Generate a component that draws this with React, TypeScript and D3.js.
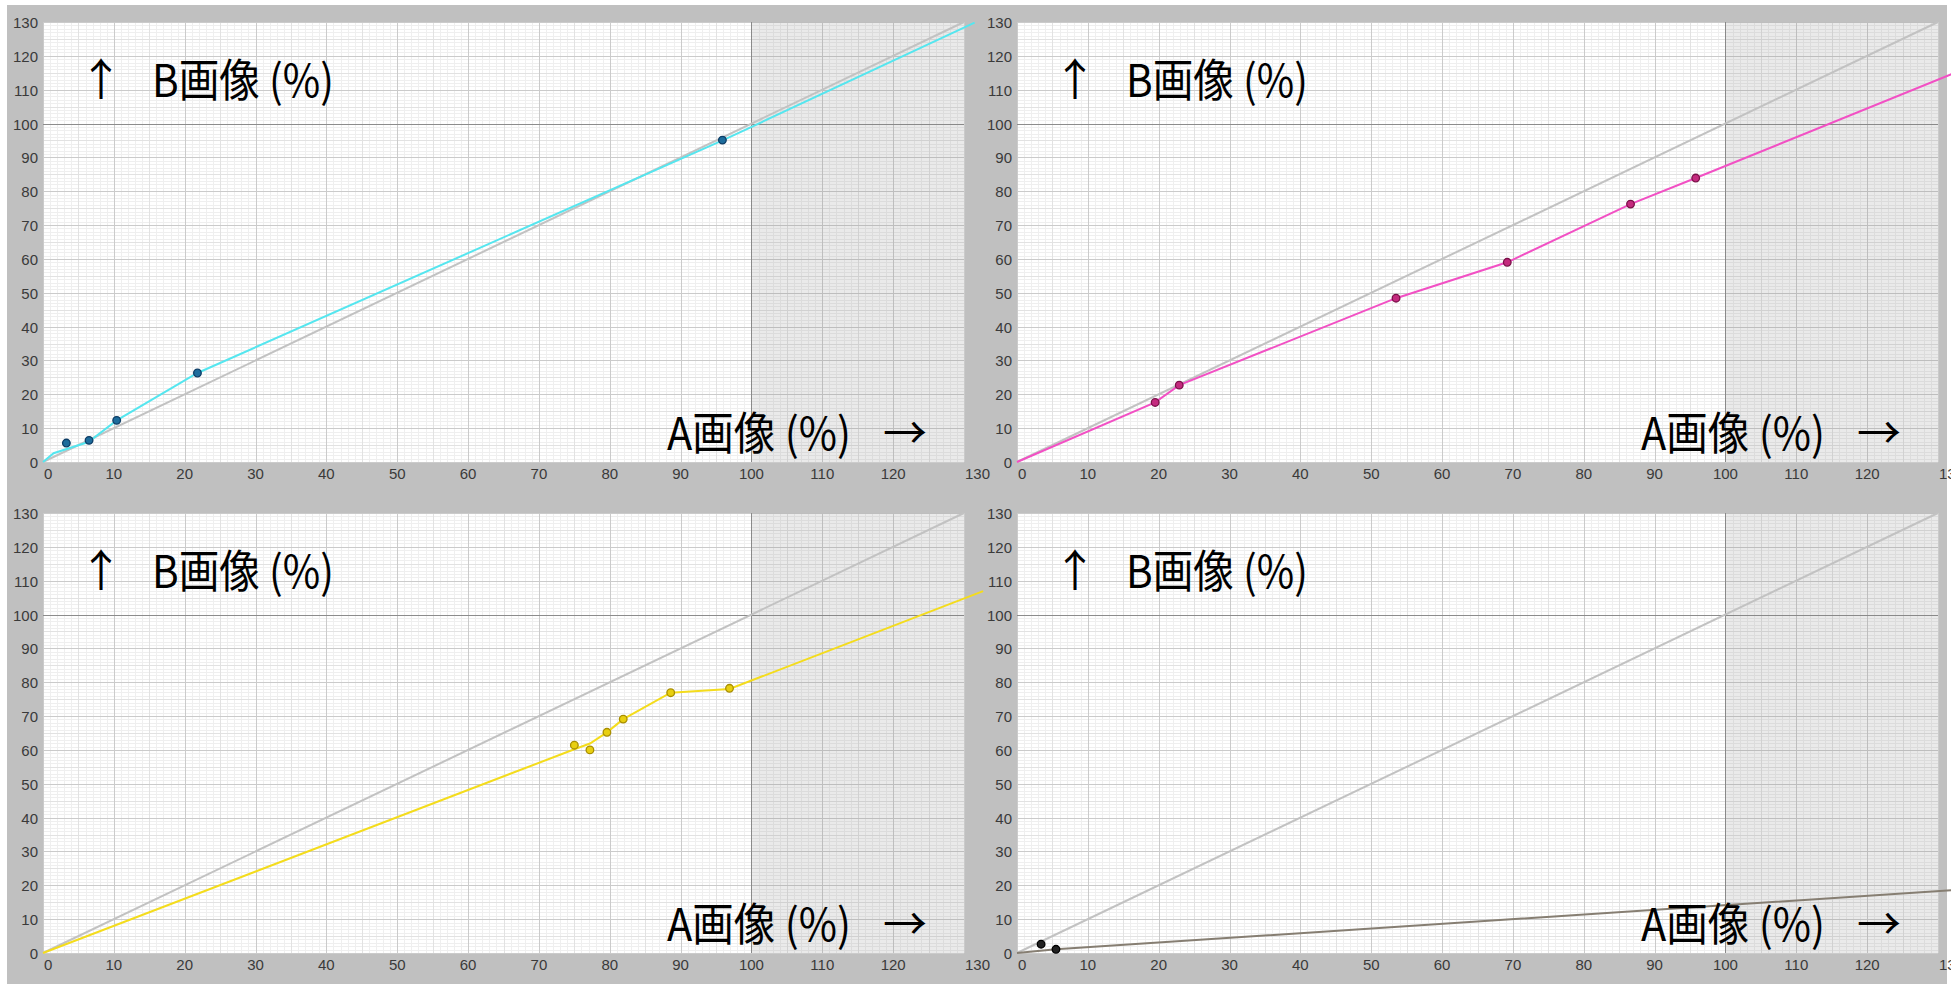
import * as d3 from "d3";

// values, in percent (A image -> B image)
const ticks = d3.range(0, 131, 10);
const gridSteps = d3.range(0, 131, 1);

const cyanCurve: [number, number][] = [[0, 0], [1.5, 2.6], [6.4, 5.9], [10.4, 12.3], [21.8, 26.3], [96, 95.1], [131.5, 129.8]];
const cyanDots: [number, number][] = [[3.3, 5.6], [6.5, 6.4], [10.4, 12.3], [21.8, 26.3], [95.9, 95.1]];

const pinkCurve: [number, number][] = [[0, 0], [19.5, 17.6], [22.9, 22.7], [53.5, 48.4], [69.2, 59], [86.6, 76.2], [95.8, 83.9], [132.4, 115]];
const pinkDots: [number, number][] = [[19.5, 17.6], [22.9, 22.7], [53.5, 48.4], [69.2, 59], [86.6, 76.2], [95.8, 83.9]];

const yellowCurve: [number, number][] = [[0, 0], [75, 60.2], [77.2, 61.9], [79.6, 65.2], [81.9, 69.1], [88.6, 76.9], [96.9, 78], [132.7, 106.9]];
const yellowDots: [number, number][] = [[75, 61.4], [77.2, 60], [79.6, 65.2], [81.9, 69.1], [88.6, 76.9], [96.9, 78.2]];

const grayCurve: [number, number][] = [[0, 0], [5.5, 1.1], [132.4, 18.6]];
const grayDots: [number, number][] = [[3.4, 2.6], [5.5, 1.1]];

const W = 1951;
const H = 984;
const PW = 921;
const PH = 440;

type PanelProps = {
  left: number;
  top: number;
  curve: [number, number][];
  dots: [number, number][];
  lineColor: string;
  dotFill: string;
  dotStroke: string;
};

function gridColor(v: number) {
  if (v === 100) return "#8c8c8c";
  if (v % 10 === 0) return "#cbcbcb";
  if (v % 5 === 0) return "#e2e2e2";
  return "#efefef";
}

function rank(v: number) {
  return v === 100 ? 3 : v % 10 === 0 ? 2 : v % 5 === 0 ? 1 : 0;
}

function Panel({ left, top, curve, dots, lineColor, dotFill, dotStroke }: PanelProps) {
  const x = d3.scaleLinear().domain([0, 130]).range([left, left + PW]);
  const y = d3.scaleLinear().domain([0, 130]).range([top + PH, top]);
  const line = d3.line<[number, number]>().x(d => x(d[0])).y(d => y(d[1]));
  const order = [...gridSteps].sort((a, b) => rank(a) - rank(b));

  return (
    <g>
      <rect x={left} y={top} width={PW} height={PH} fill="#fff" />
      {order.map(v => (
        <g key={v}>
          <line x1={Math.round(x(v)) + 0.5} x2={Math.round(x(v)) + 0.5} y1={top} y2={top + PH} stroke={gridColor(v)} />
          <line x1={left} x2={left + PW} y1={Math.round(y(v)) + 0.5} y2={Math.round(y(v)) + 0.5} stroke={gridColor(v)} />
        </g>
      ))}
      <rect x={x(100)} y={top} width={x(130) - x(100)} height={PH} fill="#7a7a7a" opacity={0.16} />
      {ticks.map(t => (
        <text key={"y" + t} x={left - 5} y={y(t) + 6} textAnchor="end" fontSize={15} fill="#3a3a3a"
          fontFamily="Liberation Sans, Arial, sans-serif">{t}</text>
      ))}
      {ticks.map((t, i) => (
        <text key={"x" + t} x={i === 0 || i === ticks.length - 1 ? x(t) + 1 : x(t)} y={top + PH + 17}
          textAnchor={i === 0 || i === ticks.length - 1 ? "start" : "middle"} fontSize={15} fill="#3a3a3a"
          fontFamily="Liberation Sans, Arial, sans-serif">{t}</text>
      ))}
      <line x1={x(0)} y1={y(0)} x2={x(130)} y2={y(130)} stroke="#c2c2c2" strokeWidth={2} />
      <path d={line(curve) ?? ""} fill="none" stroke={lineColor} strokeWidth={2} />
      {dots.map((d, i) => (
        <circle key={i} cx={x(d[0])} cy={y(d[1])} r={3.8} fill={dotFill} stroke={dotStroke} strokeWidth={1.3} />
      ))}
      <g fontFamily="Noto Sans CJK JP, sans-serif" fill="#000">
        <text x={left + 58} y={top + 74} fontSize={44} textAnchor="middle">↑</text>
        <text x={left + 109} y={top + 75} fontSize={45} textLength={182} lengthAdjust="spacingAndGlyphs">B画像 (%)</text>
        <text x={left + 624} y={top + PH - 12} fontSize={45} textLength={184} lengthAdjust="spacingAndGlyphs">A画像 (%)</text>
        <text x={left + 862} y={top + PH - 13} fontSize={44} textAnchor="middle">→</text>
      </g>
    </g>
  );
}

export default function App() {
  return (
    <svg width={W} height={H} style={{ position: "absolute", left: 0, top: 0, display: "block" }}>
      <rect width={W} height={H} fill="#fff" />
      <rect x={7} y={5} width={1940} height={H - 5} fill="#c0c0c0" />
      <Panel left={43} top={22} curve={cyanCurve} dots={cyanDots} lineColor="#55e6ef" dotFill="#1d6c9c" dotStroke="#0d3d66" />
      <Panel left={1017} top={22} curve={pinkCurve} dots={pinkDots} lineColor="#f250c4" dotFill="#c42a7e" dotStroke="#7a1048" />
      <Panel left={43} top={513} curve={yellowCurve} dots={yellowDots} lineColor="#f4dc1c" dotFill="#e8cf10" dotStroke="#a88e00" />
      <Panel left={1017} top={513} curve={grayCurve} dots={grayDots} lineColor="#867e72" dotFill="#222" dotStroke="#000" />
    </svg>
  );
}
